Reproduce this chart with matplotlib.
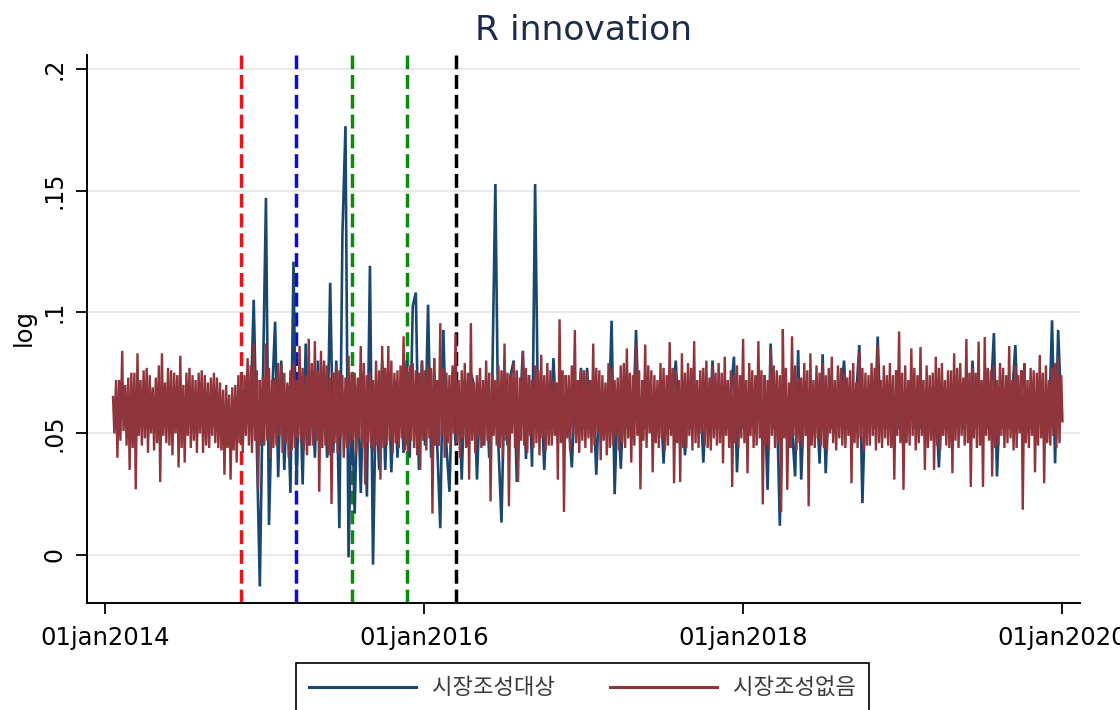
import numpy as np
import pandas as pd
import matplotlib
matplotlib.use("Agg")
import matplotlib.pyplot as plt
from matplotlib.lines import Line2D
from matplotlib.font_manager import FontProperties

# 시장조성없음 (no market making): twice-weekly log values, weeks starting 2014-01-20.
# *_mon = Monday observation, *_thu = Thursday observation of the same week.
none_mon_2014 = [0.065, 0.072, 0.072, 0.084, 0.070, 0.073, 0.075, 0.075, 0.083, 0.072,
                 0.076, 0.077, 0.074, 0.069, 0.073, 0.078, 0.083, 0.071, 0.077, 0.076,
                 0.075, 0.074, 0.082, 0.070, 0.075, 0.077, 0.074, 0.072, 0.075, 0.076,
                 0.074, 0.071, 0.073, 0.075, 0.073, 0.071, 0.068, 0.070, 0.066, 0.069,
                 0.070, 0.074, 0.075, 0.074, 0.081, 0.078, 0.087, 0.076, 0.072, 0.073]
none_thu_2014 = [0.050, 0.040, 0.047, 0.051, 0.045, 0.035, 0.044, 0.027, 0.049, 0.045,
                 0.048, 0.042, 0.050, 0.043, 0.046, 0.030, 0.049, 0.046, 0.045, 0.041,
                 0.050, 0.036, 0.044, 0.038, 0.049, 0.044, 0.047, 0.042, 0.050, 0.042,
                 0.045, 0.044, 0.049, 0.046, 0.044, 0.043, 0.033, 0.044, 0.031, 0.043,
                 0.038, 0.046, 0.042, 0.049, 0.045, 0.042, 0.047, 0.027, 0.045, 0.045]
none_mon_2015 = [0.087, 0.077, 0.072, 0.073, 0.079, 0.078, 0.075, 0.071, 0.076, 0.079,
                 0.072, 0.086, 0.077, 0.074, 0.089, 0.079, 0.088, 0.076, 0.084, 0.080,
                 0.078, 0.073, 0.075, 0.078, 0.076, 0.074, 0.073, 0.082, 0.075, 0.075,
                 0.073, 0.086, 0.079, 0.074, 0.075, 0.072, 0.080, 0.076, 0.086, 0.077,
                 0.086, 0.080, 0.075, 0.076, 0.078, 0.090, 0.077, 0.078, 0.079, 0.076,
                 0.075, 0.080]
none_thu_2015 = [0.047, 0.040, 0.044, 0.045, 0.049, 0.042, 0.046, 0.040, 0.043, 0.044,
                 0.048, 0.046, 0.043, 0.041, 0.045, 0.045, 0.047, 0.026, 0.044, 0.045,
                 0.041, 0.021, 0.046, 0.042, 0.048, 0.040, 0.044, 0.045, 0.047, 0.041,
                 0.048, 0.044, 0.029, 0.046, 0.044, 0.042, 0.045, 0.031, 0.044, 0.045,
                 0.047, 0.042, 0.046, 0.044, 0.048, 0.043, 0.042, 0.047, 0.044, 0.041,
                 0.035, 0.047]
none_mon_2016 = [0.076, 0.078, 0.077, 0.081, 0.072, 0.0954, 0.077, 0.075, 0.074, 0.078,
                 0.091, 0.072, 0.076, 0.079, 0.075, 0.0954, 0.071, 0.074, 0.077, 0.072,
                 0.080, 0.075, 0.074, 0.072, 0.078, 0.076, 0.087, 0.075, 0.074, 0.079,
                 0.076, 0.073, 0.084, 0.077, 0.074, 0.072, 0.078, 0.076, 0.0824, 0.074,
                 0.079, 0.076, 0.072, 0.071, 0.097, 0.076, 0.074, 0.074, 0.078, 0.0926,
                 0.072, 0.076]
none_thu_2016 = [0.043, 0.048, 0.017, 0.045, 0.045, 0.049, 0.040, 0.046, 0.044, 0.050,
                 0.046, 0.040, 0.048, 0.044, 0.031, 0.047, 0.042, 0.049, 0.044, 0.045,
                 0.047, 0.022, 0.049, 0.045, 0.044, 0.040, 0.047, 0.020, 0.050, 0.044,
                 0.030, 0.047, 0.045, 0.042, 0.049, 0.044, 0.046, 0.041, 0.048, 0.043,
                 0.045, 0.045, 0.049, 0.031, 0.046, 0.0177, 0.048, 0.043, 0.050, 0.046,
                 0.042, 0.047]
none_mon_2017 = [0.076, 0.075, 0.072, 0.087, 0.077, 0.076, 0.074, 0.071, 0.079, 0.077,
                 0.072, 0.073, 0.078, 0.079, 0.085, 0.075, 0.074, 0.0864, 0.076, 0.072,
                 0.0866, 0.078, 0.076, 0.074, 0.072, 0.079, 0.077, 0.074, 0.0876, 0.077,
                 0.076, 0.072, 0.083, 0.075, 0.079, 0.077, 0.088, 0.072, 0.076, 0.077,
                 0.080, 0.073, 0.078, 0.075, 0.079, 0.075, 0.0816, 0.072, 0.076, 0.074,
                 0.078, 0.074]
none_thu_2017 = [0.044, 0.048, 0.042, 0.045, 0.050, 0.039, 0.047, 0.041, 0.044, 0.045,
                 0.049, 0.043, 0.046, 0.044, 0.048, 0.038, 0.045, 0.049, 0.027, 0.047,
                 0.044, 0.050, 0.034, 0.046, 0.044, 0.048, 0.043, 0.045, 0.049, 0.0295,
                 0.046, 0.030, 0.044, 0.044, 0.049, 0.043, 0.046, 0.044, 0.050, 0.045,
                 0.044, 0.043, 0.048, 0.045, 0.046, 0.0377, 0.049, 0.044, 0.028, 0.046,
                 0.044, 0.048]
none_mon_2018 = [0.0889, 0.072, 0.079, 0.076, 0.074, 0.088, 0.076, 0.074, 0.072, 0.085,
                 0.078, 0.076, 0.074, 0.0929, 0.077, 0.071, 0.090, 0.078, 0.073, 0.073,
                 0.079, 0.076, 0.083, 0.072, 0.078, 0.075, 0.079, 0.074, 0.077, 0.0816,
                 0.072, 0.078, 0.077, 0.075, 0.073, 0.076, 0.079, 0.071, 0.0836, 0.077,
                 0.075, 0.074, 0.079, 0.077, 0.0864, 0.072, 0.078, 0.074, 0.079, 0.074,
                 0.076, 0.092, 0.075]
none_thu_2018 = [0.046, 0.0336, 0.049, 0.044, 0.045, 0.048, 0.0208, 0.045, 0.043, 0.049,
                 0.044, 0.046, 0.0177, 0.048, 0.0268, 0.044, 0.049, 0.043, 0.046, 0.044,
                 0.049, 0.020, 0.045, 0.044, 0.048, 0.045, 0.044, 0.043, 0.050, 0.046,
                 0.043, 0.048, 0.045, 0.044, 0.049, 0.0295, 0.046, 0.044, 0.048, 0.043,
                 0.045, 0.045, 0.049, 0.043, 0.046, 0.044, 0.048, 0.045, 0.044, 0.031,
                 0.049, 0.046, 0.0268]
none_mon_2019 = [0.078, 0.072, 0.085, 0.077, 0.074, 0.0856, 0.072, 0.078, 0.074, 0.075,
                 0.0816, 0.077, 0.079, 0.072, 0.076, 0.076, 0.083, 0.077, 0.079, 0.073,
                 0.0889, 0.075, 0.077, 0.075, 0.0878, 0.072, 0.0897, 0.077, 0.076, 0.078,
                 0.072, 0.079, 0.077, 0.074, 0.086, 0.072, 0.078, 0.074, 0.076, 0.079,
                 0.072, 0.077, 0.076, 0.075, 0.0823, 0.075, 0.078, 0.072, 0.077, 0.079,
                 0.0816, 0.074]
none_thu_2019 = [0.046, 0.045, 0.049, 0.043, 0.046, 0.049, 0.035, 0.044, 0.047, 0.035,
                 0.045, 0.043, 0.049, 0.045, 0.044, 0.0336, 0.047, 0.044, 0.049, 0.045,
                 0.046, 0.028, 0.048, 0.044, 0.045, 0.028, 0.049, 0.047, 0.0323, 0.044,
                 0.045, 0.049, 0.044, 0.046, 0.048, 0.043, 0.044, 0.050, 0.0186, 0.046,
                 0.044, 0.049, 0.034, 0.045, 0.048, 0.0295, 0.046, 0.045, 0.049, 0.044,
                 0.046, 0.055]

# 시장조성대상 (market-making targets): weekly log values (Mondays), from 2014-11-24
target_2014 = [0.060, 0.105, 0.045, -0.013, 0.070]
target_2015 = [0.147, 0.0123, 0.065, 0.096, 0.032, 0.080, 0.035, 0.070, 0.0255, 0.1207,
               0.029, 0.075, 0.029, 0.087, 0.045, 0.075, 0.040, 0.080, 0.045, 0.078,
               0.040, 0.112, 0.042, 0.080, 0.011, 0.132, 0.1765, -0.001, 0.065, 0.017,
               0.070, 0.0255, 0.075, 0.024, 0.119, -0.004, 0.070, 0.035, 0.080, 0.035,
               0.075, 0.034, 0.072, 0.040, 0.070, 0.042, 0.080, 0.040, 0.1025, 0.108,
               0.035, 0.080]
target_2016 = [0.045, 0.103, 0.040, 0.075, 0.045, 0.011, 0.0926, 0.045, 0.026, 0.075,
               0.045, 0.070, 0.031, 0.072, 0.045, 0.075, 0.070, 0.031, 0.068, 0.045,
               0.070, 0.040, 0.072, 0.1527, 0.045, 0.0133, 0.070, 0.045, 0.074, 0.080,
               0.030, 0.058, 0.084, 0.0395, 0.074, 0.0363, 0.1527, 0.052, 0.066, 0.035,
               0.066, 0.052, 0.081, 0.052, 0.066, 0.052, 0.066, 0.055, 0.036, 0.066,
               0.052, 0.077]
target_2017 = [0.052, 0.077, 0.052, 0.066, 0.033, 0.066, 0.052, 0.066, 0.052, 0.0964,
               0.025, 0.066, 0.0355, 0.066, 0.052, 0.066, 0.052, 0.0926, 0.052, 0.066,
               0.052, 0.066, 0.052, 0.066, 0.052, 0.066, 0.0376, 0.066, 0.052, 0.066,
               0.080, 0.052, 0.066, 0.041, 0.066, 0.052, 0.066, 0.052, 0.066, 0.038,
               0.066, 0.052, 0.080, 0.052, 0.066, 0.052, 0.066, 0.052, 0.066, 0.0816,
               0.034, 0.066]
target_2018 = [0.052, 0.066, 0.052, 0.066, 0.052, 0.066, 0.052, 0.066, 0.0268, 0.087,
               0.052, 0.066, 0.012, 0.066, 0.052, 0.066, 0.052, 0.0323, 0.0843, 0.031,
               0.066, 0.052, 0.066, 0.052, 0.066, 0.0376, 0.0826, 0.0336, 0.066, 0.052,
               0.066, 0.052, 0.066, 0.080, 0.052, 0.066, 0.052, 0.066, 0.0864, 0.0213,
               0.066, 0.052, 0.066, 0.052, 0.0899, 0.052, 0.066, 0.052, 0.066, 0.052,
               0.066, 0.052, 0.066]
target_2019 = [0.066, 0.052, 0.066, 0.052, 0.066, 0.052, 0.066, 0.052, 0.066, 0.052,
               0.066, 0.036, 0.066, 0.052, 0.066, 0.052, 0.066, 0.052, 0.066, 0.052,
               0.066, 0.052, 0.080, 0.052, 0.066, 0.052, 0.066, 0.052, 0.066, 0.0913,
               0.0323, 0.066, 0.052, 0.066, 0.052, 0.066, 0.0864, 0.052, 0.066, 0.052,
               0.066, 0.052, 0.066, 0.052, 0.066, 0.052, 0.066, 0.052, 0.0966, 0.0377,
               0.0926, 0.060]

week_start = "2014-01-20"
series_names = ["시장조성대상", "시장조성없음"]
series_colors = ["#1a476f", "#90353b"]

event_dates = ["2014-11-09", "2015-03-14", "2015-07-21", "2015-11-24", "2016-03-14"]
event_colors = ["#e8151b", "#0a0ae6", "#0c8a0c", "#0c8a0c", "#000000"]

x_tick_dates = ["2014-01-01", "2016-01-01", "2018-01-01", "2020-01-01"]
y_ticks = [0, 0.05, 0.1, 0.15, 0.2]
y_tick_labels = ["0", ".05", ".1", ".15", ".2"]
title = "R innovation"
y_label = "log"

# assemble the no-market-making series in date order (Mon, Thu, Mon, Thu, ...)
none_mon = np.array(none_mon_2014 + none_mon_2015 + none_mon_2016
                    + none_mon_2017 + none_mon_2018 + none_mon_2019)
none_thu = np.array(none_thu_2014 + none_thu_2015 + none_thu_2016
                    + none_thu_2017 + none_thu_2018 + none_thu_2019)
mondays = pd.date_range(week_start, periods=len(none_mon), freq="7D")
thursdays = mondays + pd.Timedelta(days=3)
none_dates = np.empty(2 * len(mondays), dtype="datetime64[ns]")
none_dates[0::2] = mondays.values
none_dates[1::2] = thursdays.values
none_vals = np.empty(2 * len(none_mon))
none_vals[0::2] = none_mon
none_vals[1::2] = none_thu

target_vals = target_2014 + target_2015 + target_2016 + target_2017 + target_2018 + target_2019
target_dates = mondays[len(mondays) - len(target_vals):]

W, H = 1120, 710
fig = plt.figure(figsize=(W / 100, H / 100), dpi=100)
fig.patch.set_facecolor("white")
ax = fig.add_axes([86.8 / W, 1 - 603 / H, (1080 - 86.8) / W, (603 - 55) / H])

ax.set_xlim(pd.Timestamp("2013-11-21"), pd.Timestamp("2020-02-11"))
ax.set_ylim(-0.0198, 0.2058)

# horizontal grid
ax.set_yticks(y_ticks)
ax.set_yticklabels(y_tick_labels, rotation=90, va="center")
ax.yaxis.grid(True, color="#e9e9e9", lw=1.5)
ax.set_axisbelow(True)

# event markers
for d, c in zip(event_dates, event_colors):
    ax.axvline(pd.Timestamp(d), color=c, lw=2.5, ls=(0, (4, 1.7)), zorder=2)

ax.plot(target_dates, target_vals, color=series_colors[0], lw=1.9, zorder=3,
        solid_joinstyle="miter")
ax.plot(none_dates, none_vals, color=series_colors[1], lw=1.7, zorder=4,
        solid_joinstyle="miter")

tick_ts = [pd.Timestamp(d) for d in x_tick_dates]
ax.set_xticks(tick_ts)
ax.set_xticklabels([t.strftime("%d%b%Y").lower() for t in tick_ts])

for s in ["top", "right"]:
    ax.spines[s].set_visible(False)
for s in ["left", "bottom"]:
    ax.spines[s].set_linewidth(1.4)
    ax.spines[s].set_color("black")

ax.tick_params(axis="x", length=7.9, width=1.3, labelsize=17.5, pad=8.5, colors="black")
ax.tick_params(axis="y", length=7.9, width=1.3, labelsize=17, pad=7, colors="black")

fig.text(24 / W, 1 - 327 / H, y_label, rotation=90, ha="center", va="center",
         fontsize=17.5, color="black")
fig.text(583.4 / W, 1 - 40 / H, title, ha="center", va="baseline",
         fontsize=24.8, color="#1e2c4c")

handles = [Line2D([], [], color=c, lw=2.2) for c in series_colors]
leg = fig.legend(handles, series_names, loc="upper center",
                 bbox_to_anchor=(582.5 / W, 1 - 663 / H), ncol=2, frameon=True,
                 fancybox=False, edgecolor="black", framealpha=1,
                 prop=FontProperties(family=["Noto Sans CJK KR", "DejaVu Sans"], size=16),
                 handlelength=4.8, handletextpad=0.72, columnspacing=2.48,
                 borderpad=0.6, borderaxespad=0)
leg.get_frame().set_linewidth(1.2)
for t in leg.get_texts():
    t.set_color("#3a3a3a")

fig.savefig("out.png", dpi=100, facecolor="white")
